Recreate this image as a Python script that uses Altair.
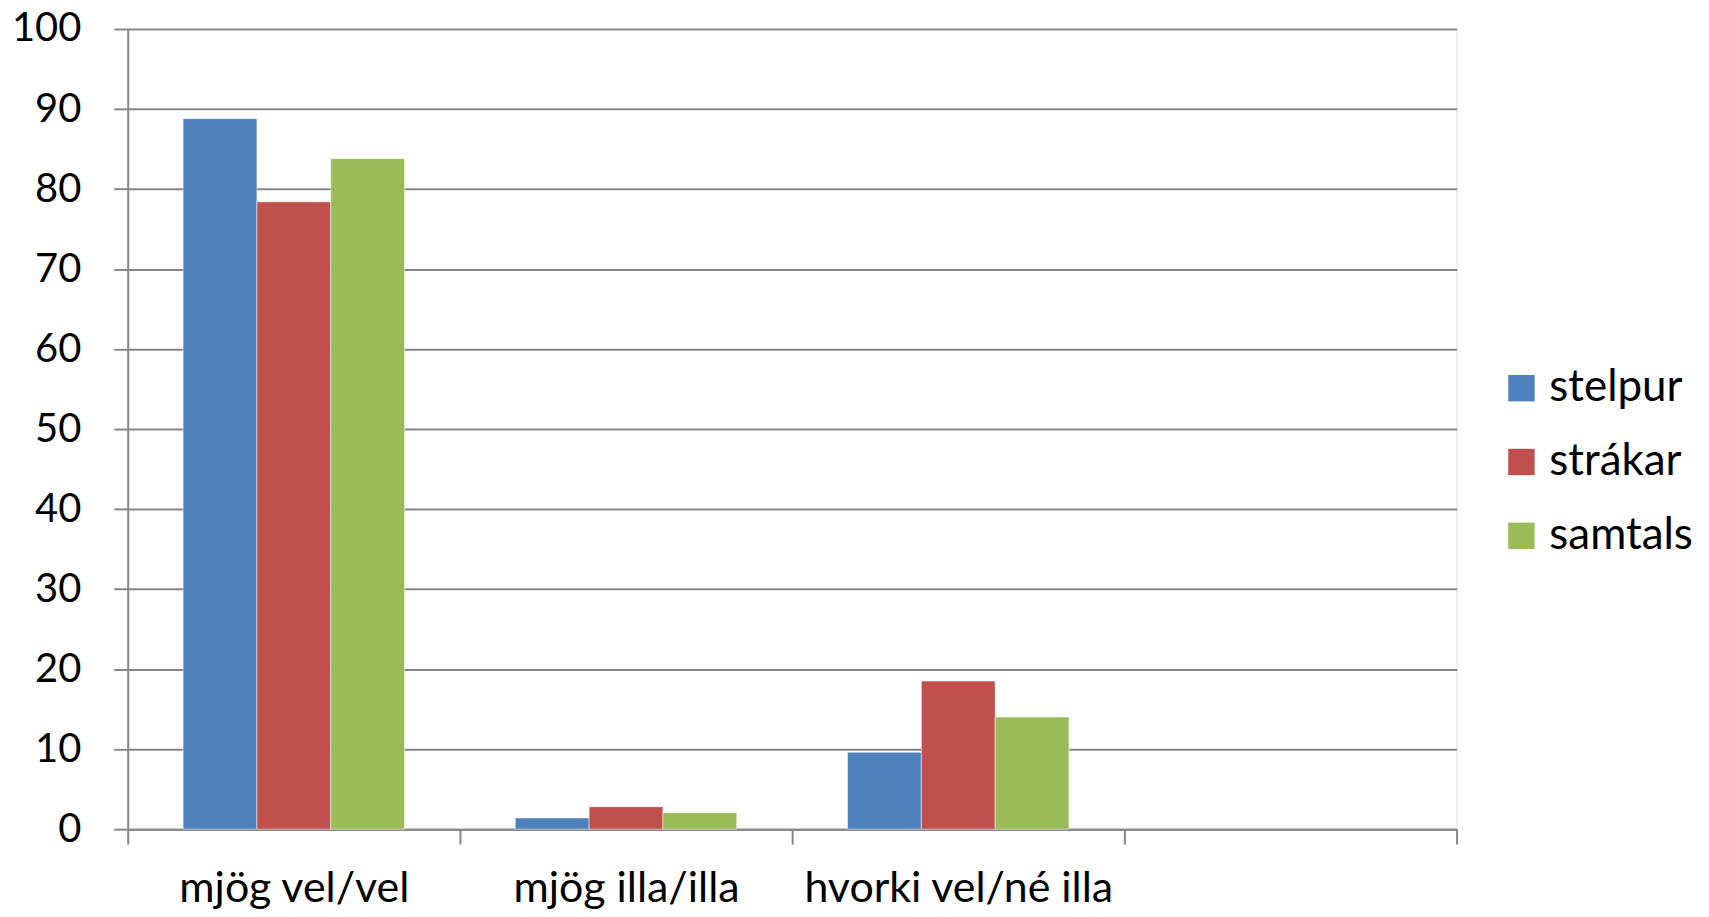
import altair as alt
import pandas as pd

categories = ["mjög vel/vel", "mjög illa/illa", "hvorki vel/né illa", " "]
series = ["stelpur", "strákar", "samtals"]
stelpur = [88.8, 1.4, 9.6]
strakar = [78.4, 2.8, 18.5]
samtals = [83.8, 2.05, 14.0]
colors = ["#4F81BD", "#C0504D", "#9BBB59"]
y_ticks = [0, 10, 20, 30, 40, 50, 60, 70, 80, 90, 100]

rows = []
for s, vals in zip(series, [stelpur, strakar, samtals]):
    for c, v in zip(categories[:3], vals):
        rows.append({"cat": c, "series": s, "value": v})
df = pd.DataFrame(rows)

FONT = "Lato"

chart = alt.Chart(df).mark_bar(stroke="#ffffff", strokeOpacity=0.5, strokeWidth=1).encode(
    x=alt.X("cat:N", sort=categories,
            scale=alt.Scale(domain=categories, paddingInner=0, paddingOuter=0),
            axis=alt.Axis(title=None, labelAngle=0, tickBand="extent", grid=False,
                          domainColor="#878787", domainWidth=2, tickColor="#878787",
                          tickWidth=2, tickSize=15, labelFontSize=43, labelFont=FONT,
                          labelColor="#000000", labelPadding=24, labelLimit=0)),
    xOffset=alt.XOffset("series:N", sort=series,
                        scale=alt.Scale(domain=series, paddingInner=0, paddingOuter=0.75)),
    y=alt.Y("value:Q", scale=alt.Scale(domain=[0, 100], nice=False),
            axis=alt.Axis(title=None, values=y_ticks, gridColor="#878787", gridWidth=2,
                          domainColor="#878787", domainWidth=2, tickColor="#878787",
                          tickWidth=2, tickSize=14, labelFontSize=40, labelFont=FONT,
                          labelColor="#000000", labelPadding=33)),
    color=alt.Color("series:N", sort=series,
                    scale=alt.Scale(domain=series, range=colors),
                    legend=alt.Legend(title=None, orient="none", legendX=1375, legendY=338,
                                      symbolType="square", symbolSize=700,
                                      symbolStrokeWidth=0, labelFontSize=44,
                                      labelFont=FONT, labelColor="#000000",
                                      labelOffset=6, rowPadding=30)),
).properties(
    width=1332, height=802,
    autosize=alt.AutoSizeParams(type="none"),
    padding={"left": 120, "top": 20, "right": 245, "bottom": 87},
).configure_view(stroke=None).configure(background="#ffffff")

chart.save("out.html", embed_options={"renderer": "svg", "actions": False})
